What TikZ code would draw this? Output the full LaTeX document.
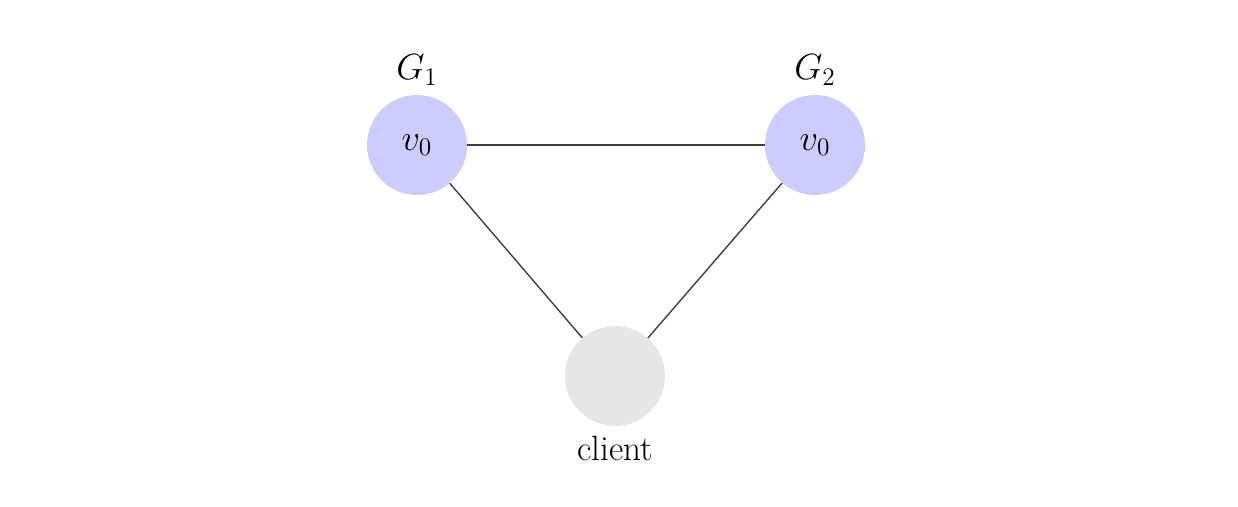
\documentclass[tikz,border=0pt]{standalone}
\usepackage{tikz}
\usetikzlibrary{positioning}
\definecolor{groupcolor}{HTML}{CCCCFF}
\definecolor{clientcolor}{HTML}{E6E6E6}

\begin{document}
\begin{tikzpicture}[
    node distance=0.15cm,
    vert/.style={circle, minimum size=2cm, inner sep=0pt, font=\fontsize{20}{24}\selectfont},
    lbl/.style={font=\fontsize{20}{24}\selectfont, inner sep=1pt},
    link/.style={draw=black!75, line width=0.8pt},
]
\useasboundingbox (0,0) rectangle (24.76,10.12);

% Replicas
\node[vert, fill=groupcolor] (g1) at (8.34,7.22) {$v_0$};
\node[vert, fill=groupcolor] (g2) at (16.30,7.22) {$v_0$};
\node[lbl, above=of g1] (g1lbl) {$G_1$};
\node[lbl, above=of g2] (g2lbl) {$G_2$};

% Client
\node[vert, fill=clientcolor] (client) at (12.30,2.6) {};
\node[lbl, below=of client] (clientlbl) {client};

\draw[link] (g1) -- (g2);
\draw[link] (g1) -- (client);
\draw[link] (g2) -- (client);

\end{tikzpicture}
\end{document}
